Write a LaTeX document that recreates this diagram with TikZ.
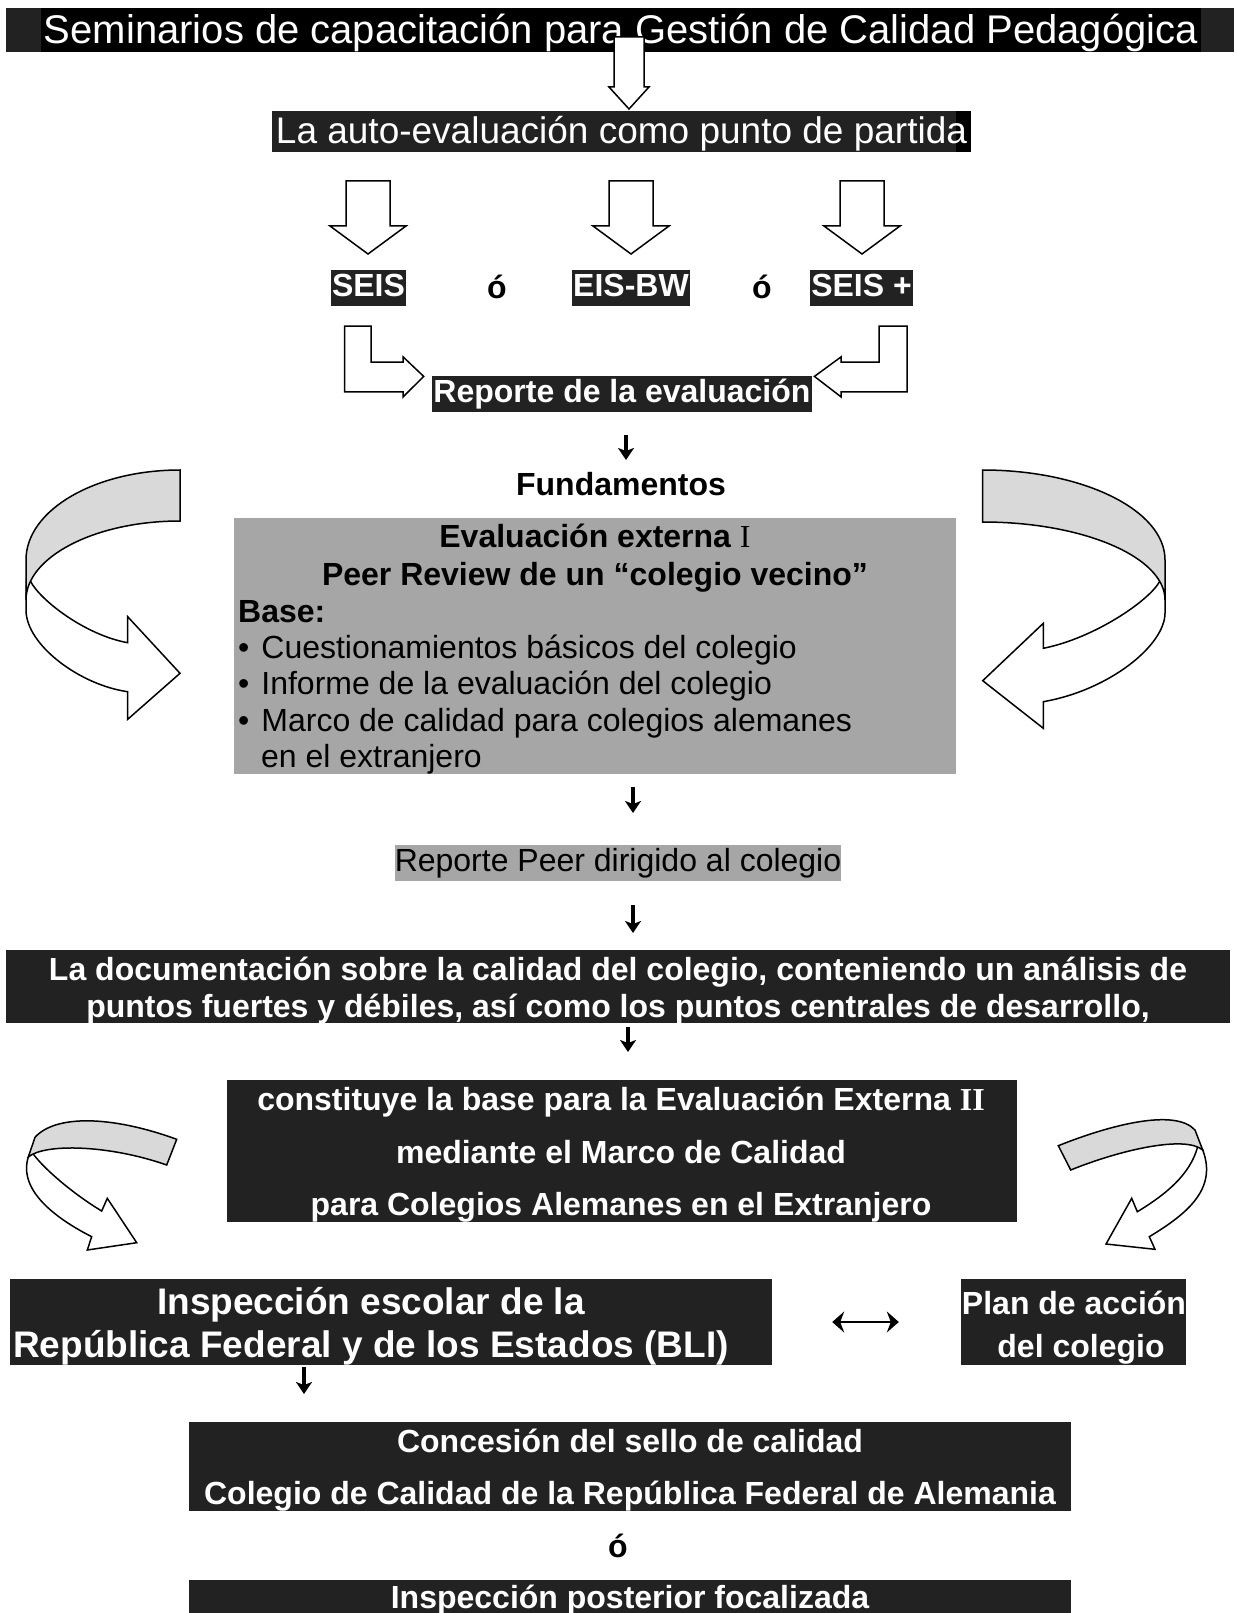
\documentclass[tikz,border=0pt]{standalone}
\usepackage{fontspec}
\setmainfont{Liberation Sans}
\newfontfamily\serifI{Liberation Serif}
\usetikzlibrary{arrows.meta}
\definecolor{dark}{HTML}{222222}
\definecolor{midgray}{HTML}{A6A6A6}
\definecolor{ribbon}{HTML}{D9D9D9}
\tikzset{
  hl/.style={fill=dark, text=white, font=\bfseries\fontsize{32}{36}\selectfont, inner xsep=1pt, inner ysep=3pt, text height=23pt, text depth=7pt},
  darkbox/.style={fill=dark, inner sep=0pt},
  wt/.style={text=white, font=\bfseries\fontsize{32}{36}\selectfont, inner sep=0pt, anchor=base},
  wtl/.style={text=white, font=\bfseries\fontsize{37}{42}\selectfont, inner sep=0pt, anchor=base},
  bt/.style={text=black, font=\bfseries\fontsize{32}{36}\selectfont, inner sep=0pt, anchor=base},
  rt/.style={text=black, font=\fontsize{32}{36}\selectfont, inner sep=0pt, anchor=base west},
  blockarrow/.style={draw=black, fill=white, line width=1.5pt, line join=miter},
  ribbonwhite/.style={draw=black, fill=white, line width=1.5pt, line join=miter},
  ribbongray/.style={draw=black, fill=ribbon, line width=1.5pt, line join=miter},
  smallarrow/.style={line width=3.2pt, -{Stealth[length=12pt,width=16pt,inset=3pt]}},
  dblarrow/.style={line width=2pt, {Stealth[length=12pt,width=21pt,inset=4pt]}-{Stealth[length=12pt,width=21pt,inset=4pt]}},
}
\begin{document}
\begin{tikzpicture}[x=1pt,y=-1pt]
\useasboundingbox (0,0) rectangle (1236,1613);
\fill[white] (0,0) rectangle (1236,1613);

% ---------- title
\fill[dark] (6,8) rectangle (1234,52);
\fill[black] (41,8) rectangle (1201,52);
\node[text=white, font=\fontsize{40}{44}\selectfont, inner sep=0pt, anchor=base] (title) at (621,44) {Seminarios de capacitación para Gestión de Calidad Pedagógica};

% block arrow title -> auto
\draw[blockarrow] (614,37) -- (644,37) -- (644,87) -- (649,87) -- (629,109) -- (609,87) -- (614,87) -- cycle;

% ---------- auto-evaluacion
\fill[dark] (272,111) rectangle (956,152);
\fill[black] (956,111) rectangle (971,152);
\node[text=white, font=\fontsize{37}{42}\selectfont, inner sep=0pt, anchor=base] (auto) at (621.5,144) {La auto-evaluación como punto de partida};

% three block arrows
\foreach \cx in {368,631,862}{
  \draw[blockarrow] (\cx-22,181) -- (\cx+22,181) -- (\cx+22,226) -- (\cx+38,226) -- (\cx,254) -- (\cx-38,226) -- (\cx-22,226) -- cycle;
}

% ---------- SEIS / EIS-BW / SEIS +
\node[hl] (seis) at (368.5,288) {SEIS};
\node[hl] (eisbw) at (631,288) {EIS-BW};
\node[hl] (seisp) at (861.5,288) {SEIS +};
\node[bt] (or1) at (497,298) {ó};
\node[bt] (or2) at (762,298) {ó};

% L-shaped block arrows
\draw[blockarrow] (344.5,326) -- (344.5,391.8) -- (403,391.8) -- (403,397) -- (423.7,376.4) -- (403,356.8) -- (403,362) -- (371.2,362) -- (371.2,326) -- cycle;
\draw[blockarrow] (907,326) -- (907,391.8) -- (841.2,391.8) -- (841.2,397) -- (814.4,376.4) -- (841.2,356.8) -- (841.2,362) -- (879.2,362) -- (879.2,326) -- cycle;

% ---------- Reporte de la evaluacion
\node[hl] (rep) at (622,394) {Reporte de la evaluación};

\coordinate (a1s) at (626,435);
\coordinate (a1e) at (626,460);
\draw[smallarrow] (a1s) -- (a1e);

\node[bt] (fund) at (621,495) {Fundamentos};

% ---------- big ribbon arrows
% left
\path (180,521) .. controls (95,521) and (26,557) .. (26,600) coordinate[pos=0.85] (LC);
\draw[ribbonwhite] (LC) .. controls (40,600) and (85,635) .. (127.7,642.7) -- (127.7,616.7) -- (180,673.3) -- (127.7,719.3) -- (127.7,691.7) .. controls (80,685) and (26,645) .. (26,610) -- (26,600) -- (27,570) -- cycle;
\draw[ribbongray] (180,470) .. controls (95,470) and (26,510) .. (26,560) -- (26,600) .. controls (26,557) and (95,521) .. (180,521) -- cycle;
% right
\path (982.7,522) .. controls (1083,522) and (1165,557) .. (1165,600) coordinate[pos=0.85] (RC);
\draw[ribbonwhite] (RC) .. controls (1150,600) and (1095,638) .. (1043.3,648.3) -- (1043.3,623.3) -- (982.7,680.7) -- (1043.3,728.3) -- (1043.3,701.7) .. controls (1110,690) and (1165,645) .. (1165,613) -- (1165,600) -- (1164,570) -- cycle;
\draw[ribbongray] (982.7,470) .. controls (1083,470) and (1165,510) .. (1165,560) -- (1165,600) .. controls (1165,557) and (1083,522) .. (982.7,522) -- cycle;

% ---------- gray box
\node[fill=midgray, inner sep=0pt, minimum width=722pt, minimum height=256pt] (gbox) at (595,646) {};
\node[bt] (g1) at (595,547) {Evaluación externa {\serifI\mdseries I}};
\node[bt] (g2) at (595,585) {Peer Review de un “colegio vecino”};
\node[bt, anchor=base west] (g3) at (238,622) {Base:};
\node[rt] (g4) at (238,658) {•\hspace{12pt}Cuestionamientos básicos del colegio};
\node[rt] (g5) at (238,694) {•\hspace{12pt}Informe de la evaluación del colegio};
\node[rt] (g6) at (238,731) {•\hspace{12pt}Marco de calidad para colegios alemanes};
\node[rt] (g7) at (261,767) {en el extranjero};

\coordinate (a2s) at (633,787);
\coordinate (a2e) at (633,813);
\draw[smallarrow] (a2s) -- (a2e);

% ---------- Reporte Peer
\node[fill=midgray, font=\fontsize{32}{36}\selectfont, inner xsep=0pt, inner ysep=3pt, text height=23pt, text depth=7pt] (peer) at (618,863) {Reporte Peer dirigido al colegio};

\coordinate (a3s) at (633,905);
\coordinate (a3e) at (633,933);
\draw[smallarrow] (a3s) -- (a3e);

% ---------- documentation bar
\node[darkbox, minimum width=1224pt, minimum height=73pt] (doc) at (618,986.5) {};
\node[wt] (doc1) at (618,980) {La documentación sobre la calidad del colegio, conteniendo un análisis de};
\node[wt] (doc2) at (618,1017) {puntos fuertes y débiles, así como los puntos centrales de desarrollo,};

\coordinate (a4s) at (628,1027);
\coordinate (a4e) at (628,1052);
\draw[smallarrow] (a4s) -- (a4e);

% ---------- constituye box
\node[darkbox, minimum width=790pt, minimum height=142pt] (const) at (622,1151) {};
\node[wt] (c1) at (621,1110.5) {constituye la base para la Evaluación Externa {\serifI II}};
\node[wt] (c2) at (621,1163.5) {mediante el Marco de Calidad};
\node[wt] (c3) at (621,1215.5) {para Colegios Alemanes en el Extranjero};

% ---------- small ribbon arrows
% left
\path (28.3,1157) .. controls (45,1143) and (110,1145) .. (166.7,1165) coordinate[pos=0.08] (SJ);
\draw[ribbonwhite] (SJ) .. controls (45,1170) and (75,1195) .. (101.7,1211) -- (107.3,1198.3) -- (136.7,1242.7) -- (87.3,1250) -- (91.7,1236.7) .. controls (55,1218) and (18,1190) .. (28.3,1157) -- (33,1147) -- cycle;
\draw[ribbongray] (176.7,1139.3) .. controls (110,1115) and (55,1115) .. (35,1137.3) -- (28.3,1157) .. controls (45,1143) and (110,1145) .. (166.7,1165) -- cycle;
% right
\path (1202.7,1150) .. controls (1185,1135) and (1120,1150) .. (1070.7,1170) coordinate[pos=0.08] (SK);
\draw[ribbonwhite] (SK) .. controls (1190,1175) and (1165,1195) .. (1137.3,1211.7) -- (1131.7,1198.3) -- (1106,1244) -- (1155,1249.3) -- (1149.3,1236.7) .. controls (1185,1215) and (1218,1190) .. (1202.7,1150) -- (1197,1140) -- cycle;
\draw[ribbongray] (1058.3,1145.7) .. controls (1110,1125) and (1175,1108) .. (1195,1130) -- (1202.7,1150) .. controls (1185,1135) and (1120,1150) .. (1070.7,1170) -- cycle;

% ---------- BLI and Plan
\node[darkbox, minimum width=762pt, minimum height=86pt] (bli) at (391,1322) {};
\node[wtl] (b1) at (371,1314) {Inspección escolar de la};
\node[wtl] (b2) at (371,1357) {República Federal y de los Estados (BLI)};

\node[darkbox, minimum width=225pt, minimum height=86pt] (plan) at (1073.5,1322) {};
\node[wt] (p1) at (1074,1314) {Plan de acción};
\node[wt] (p2) at (1081,1357) {del colegio};

\draw[dblarrow, shorten <=60pt, shorten >=62pt] (bli.east) -- (plan.west);

\coordinate (a5s) at (304,1367);
\coordinate (a5e) at (304,1394);
\draw[smallarrow] (a5s) -- (a5e);

% ---------- Concesion
\node[darkbox, minimum width=882pt, minimum height=89pt] (conc) at (630,1466.5) {};
\node[wt] (k1) at (630,1452) {Concesión del sello de calidad};
\node[wt] (k2) at (630,1504) {Colegio de Calidad de la República Federal de Alemania};

\node[bt] (or3) at (618,1557) {ó};

\node[darkbox, minimum width=882pt, minimum height=40pt] (insp) at (630,1600) {};
\node[wt] (i1) at (630,1608.5) {Inspección posterior focalizada};
\end{tikzpicture}
\end{document}
